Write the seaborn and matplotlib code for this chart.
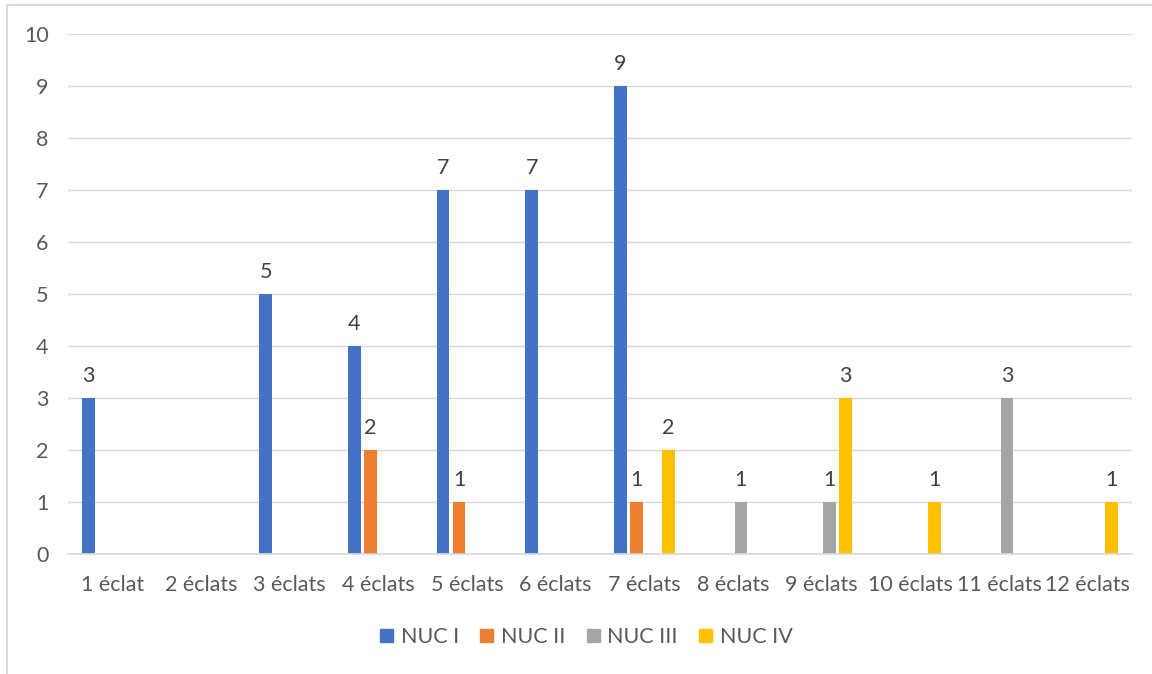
import matplotlib
matplotlib.use("Agg")
import matplotlib.pyplot as plt
import seaborn as sns
import pandas as pd
from matplotlib.patches import Rectangle

categories = ["1 éclat", "2 éclats", "3 éclats", "4 éclats", "5 éclats", "6 éclats",
              "7 éclats", "8 éclats", "9 éclats", "10 éclats", "11 éclats", "12 éclats"]
series_names = ["NUC I", "NUC II", "NUC III", "NUC IV"]
nuc_i = [3, 0, 5, 4, 7, 7, 9, 0, 0, 0, 0, 0]
nuc_ii = [0, 0, 0, 2, 1, 0, 1, 0, 0, 0, 0, 0]
nuc_iii = [0, 0, 0, 0, 0, 0, 0, 1, 1, 0, 3, 0]
nuc_iv = [0, 0, 0, 0, 0, 0, 2, 0, 3, 1, 0, 1]
colors = ["#4472C4", "#ED7D31", "#A5A5A5", "#FFC000"]
y_ticks = list(range(0, 11))

rows = []
for name, vals in zip(series_names, [nuc_i, nuc_ii, nuc_iii, nuc_iv]):
    for c, v in zip(categories, vals):
        rows.append({"cat": c, "series": name, "value": v})
df = pd.DataFrame(rows)

sns.set_theme(style="white")
plt.rcParams["font.family"] = ["Lato", "DejaVu Sans"]
text_color = "#595959"
fs = 15.5

fig = plt.figure(figsize=(11.52, 6.74), dpi=100)
ax = fig.add_axes([68 / 1152, 1 - 554 / 674, (1132 - 68) / 1152, (554 - 34) / 674])

sns.barplot(data=df, x="cat", y="value", hue="series", order=categories,
            hue_order=series_names, palette=colors, width=0.72, gap=0.2,
            saturation=1, linewidth=0, ax=ax, legend=False)

for cont in ax.containers:
    labels = [f"{int(b.get_height())}" if b.get_height() > 0 else "" for b in cont]
    ax.bar_label(cont, labels=labels, padding=9, fontsize=fs, color="#404040")

ax.set_ylim(0, 10)
ax.set_yticks(y_ticks)
ax.set_xlim(-0.5, len(categories) - 0.5)
ax.yaxis.grid(True, color="#D9D9D9", linewidth=1)
ax.set_axisbelow(True)
for s in ["top", "right", "left"]:
    ax.spines[s].set_visible(False)
ax.spines["bottom"].set_color("#D9D9D9")
ax.tick_params(axis="both", length=0, labelsize=fs, colors=text_color)
ax.tick_params(axis="x", pad=15)
ax.tick_params(axis="y", pad=14)
ax.set_xlabel("")
ax.set_ylabel("")

handles = [Rectangle((0, 0), 1, 1, color=c) for c in colors]
leg = fig.legend(handles, series_names, loc="center", bbox_to_anchor=(0.509, 1 - 637 / 674),
                 ncol=4, frameon=False, fontsize=fs, handlelength=0.6, handleheight=0.6,
                 handletextpad=0.35, columnspacing=1.0)
for t in leg.get_texts():
    t.set_color(text_color)

fig.patches.append(Rectangle((7 / 1152, -0.1), 1.2, 1 - 5 / 674 + 0.1,
                             transform=fig.transFigure, fill=False,
                             edgecolor="#D9D9D9", linewidth=1.5))

fig.savefig("out.png", dpi=100)
